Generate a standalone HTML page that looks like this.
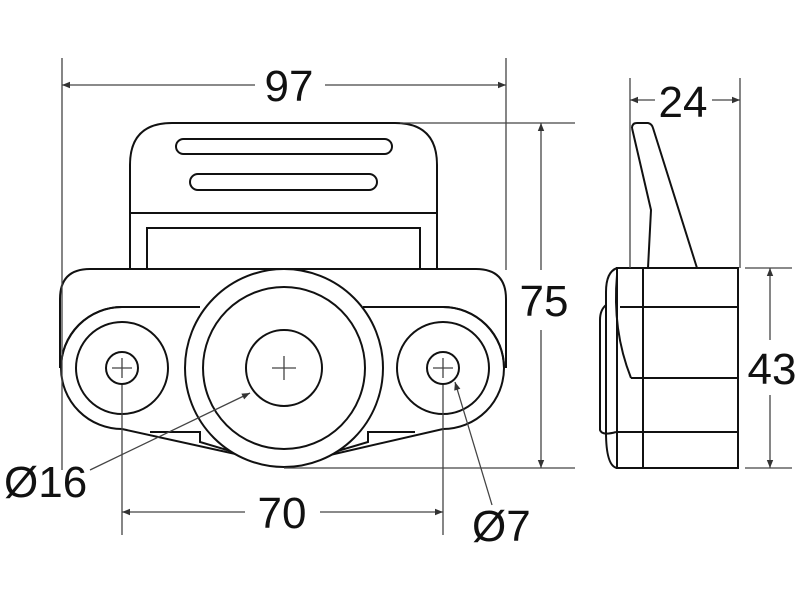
<!DOCTYPE html>
<html><head><style>html,body{margin:0;padding:0;background:#fff}svg{display:block}text{font-family:"Liberation Sans",sans-serif;fill:#111}</style></head>
<body>
<svg width="800" height="600" viewBox="0 0 800 600" xmlns="http://www.w3.org/2000/svg">
<defs>
<marker id="a" viewBox="0 0 10 10" refX="10" refY="5" markerWidth="10" markerHeight="8" orient="auto-start-reverse" markerUnits="userSpaceOnUse"><path d="M0,1 L10,5 L0,9 z" fill="#333"/></marker>
</defs>
<g fill="none" stroke="#111" stroke-width="2">
<!-- top plate -->
<path d="M130,268 V165 Q130,123 172,123 H395 Q437,123 437,165 V268"/>
<line x1="130" y1="213" x2="437" y2="213"/>
<rect x="176" y="139" width="216" height="15" rx="7.5"/>
<rect x="190" y="174" width="187" height="16" rx="8"/>
<path d="M147,268 V228 H420 V268"/>
<!-- body -->
<path d="M60,368 V299 Q60,269 90,269 H476 Q506,269 506,299 V368"/>
<path d="M122,307 H200 M363,307 H443"/>
<path d="M122,307 A61,61 0 0 0 122,429 L240,455 M443,307 A61,61 0 0 1 443,429 L330,455"/>
<path d="M122,307 A61,61 0 0 0 61,368"/>
<path d="M443,307 A61,61 0 0 1 504,368"/>
<path d="M150,432 H200 L200,442 L284,467 L368,442 V432 H415"/>
<circle cx="122" cy="368" r="46"/>
<circle cx="443" cy="368" r="46"/>
<circle cx="122" cy="368" r="16"/>
<circle cx="443" cy="368" r="16"/>
<circle cx="284" cy="368" r="99" fill="#fff"/>
<circle cx="284" cy="368" r="81"/>
<circle cx="284" cy="368" r="38"/>
<!-- side view -->
<path d="M632,128 Q632,123 637,123 H648 Q652,124 653,128 L697,268"/>
<path d="M632,128 L651,210 L648,268"/>
<rect x="617" y="268" width="121" height="200"/>
<line x1="643" y1="268" x2="643" y2="468"/>
<line x1="620" y1="307" x2="738" y2="307"/>
<line x1="631" y1="378" x2="738" y2="378"/>
<line x1="616" y1="432" x2="738" y2="432"/>
<path d="M617,268 Q606,272 606,292 V432 Q606,466 617,468" />
<path d="M617,275 Q612,330 631,378"/>
<path d="M606,305 Q600,310 600,320 V430 Q602,436 616,432"/>
</g>
<g stroke="#444" stroke-width="1.3" fill="none">
<!-- centre marks -->
<path d="M112,368 H132 M122,358 V378 M433,368 H453 M443,358 V378 M272,368 H296 M284,356 V380"/>
<!-- extension lines -->
<line x1="62" y1="58" x2="62" y2="470"/>
<line x1="506" y1="58" x2="506" y2="270"/>
<line x1="400" y1="123" x2="575" y2="123"/>
<line x1="284" y1="468" x2="575" y2="468"/>
<line x1="122" y1="385" x2="122" y2="535"/>
<line x1="443" y1="385" x2="443" y2="535"/>
<line x1="630" y1="78" x2="630" y2="268"/>
<line x1="740" y1="78" x2="740" y2="268"/>
<line x1="745" y1="268" x2="792" y2="268"/>
<line x1="745" y1="468" x2="792" y2="468"/>
<!-- dimension lines -->
<line x1="62" y1="85" x2="255" y2="85" marker-start="url(#a)"/>
<line x1="325" y1="85" x2="506" y2="85" marker-end="url(#a)"/>
<line x1="541" y1="123" x2="541" y2="270" marker-start="url(#a)"/>
<line x1="541" y1="330" x2="541" y2="468" marker-end="url(#a)"/>
<line x1="122" y1="512" x2="245" y2="512" marker-start="url(#a)"/>
<line x1="320" y1="512" x2="443" y2="512" marker-end="url(#a)"/>
<line x1="630" y1="100" x2="655" y2="100" marker-start="url(#a)"/>
<line x1="712" y1="100" x2="740" y2="100" marker-end="url(#a)"/>
<line x1="770" y1="268" x2="770" y2="340" marker-start="url(#a)"/>
<line x1="770" y1="395" x2="770" y2="468" marker-end="url(#a)"/>
<line x1="90" y1="470" x2="250" y2="393" marker-end="url(#a)"/>
<line x1="492" y1="505" x2="455" y2="382" marker-end="url(#a)"/>
</g>
<g font-size="44">
<text x="289" y="101" text-anchor="middle">97</text>
<text x="544" y="316" text-anchor="middle">75</text>
<text x="282" y="528" text-anchor="middle">70</text>
<text x="683" y="117" text-anchor="middle">24</text>
<text x="772" y="384" text-anchor="middle">43</text>
<text x="4" y="497">Ø16</text>
<text x="472" y="541">Ø7</text>
</g>
</svg>
</body></html>
